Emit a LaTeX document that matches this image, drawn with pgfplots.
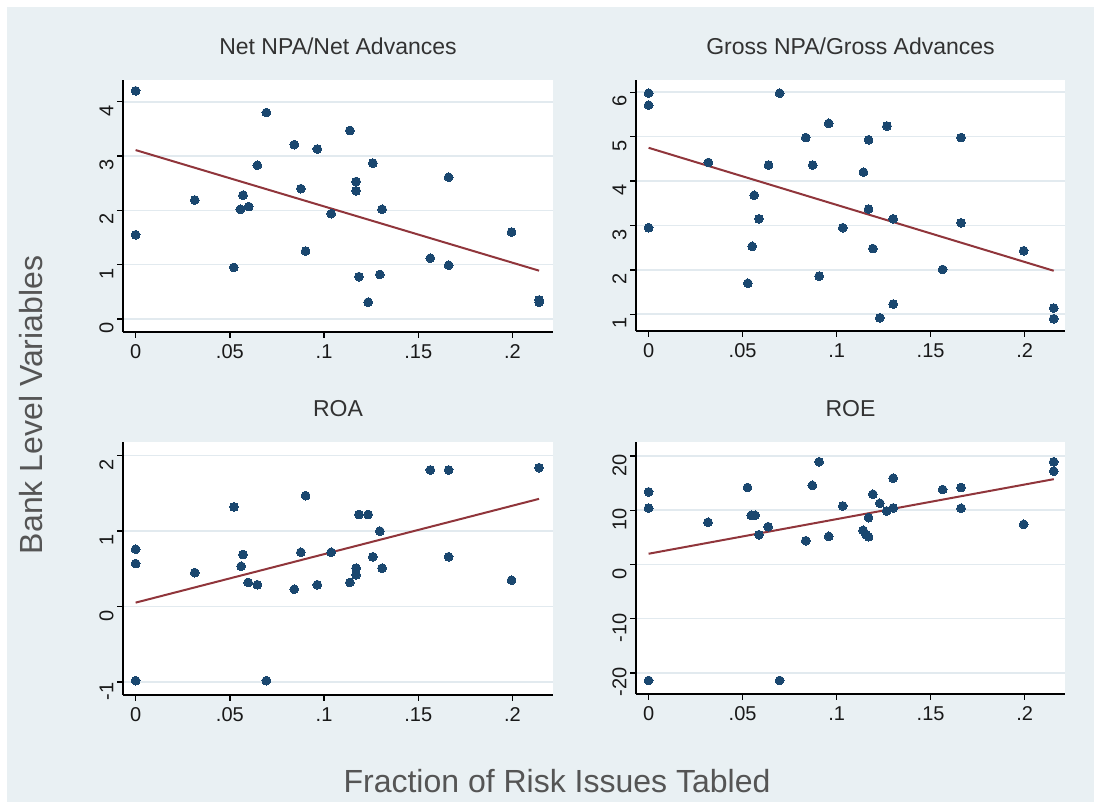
\documentclass[border=0pt]{standalone}
\usepackage{pgfplots}
\pgfplotsset{compat=1.18}
\usepackage{fontspec}
\setmainfont{Liberation Sans}
\definecolor{bgc}{RGB}{233,240,243}
\definecolor{gridc}{RGB}{226,234,239}
\definecolor{mk}{RGB}{26,71,111}
\definecolor{fitc}{RGB}{144,53,59}
\definecolor{titc}{RGB}{50,50,50}
\definecolor{labc}{RGB}{85,85,85}
\pgfplotsset{
 panel/.style={
  scale only axis, width=430pt, height=252pt,
  axis lines=left, axis line style={-, line width=1.4pt, black},
  axis background/.style={fill=white},
  xmin=-0.0067, xmax=0.2215,
  xtick={0,0.05,0.1,0.15,0.2}, xticklabels={0,.05,.1,.15,.2},
  tick align=outside, major tick length=6pt,
  tick style={black, line width=1.4pt},
  ymajorgrids, grid style={gridc, line width=1.6pt},
  /pgf/number format/assume math mode=true,
  ticklabel style={font=\fontsize{20}{24}\selectfont, text=black!90},
  yticklabel style={rotate=90, anchor=south, xshift=-9pt},
  xticklabel style={yshift=-3pt},
  title style={font=\fontsize{23}{27}\selectfont, text=titc, at={(0.5,1)}, anchor=base, yshift=19pt},
  clip=false,
 },
 pts/.style={only marks, mark=*, mark size=4.4pt, mark options={fill=mk, draw=mk, line width=0pt}},
 fitl/.style={no marks, fitc, line width=2pt},
}
\begin{document}
\begin{tikzpicture}
\useasboundingbox (0pt,0pt) rectangle (1094pt,802pt);
\fill[white] (0pt,0pt) rectangle (1094pt,802pt);
\fill[bgc] (7pt,0pt) rectangle (1094pt,795pt);

% Panel 1
\begin{axis}[panel, at={(123pt,470pt)}, anchor=south west,
  ymin=-0.239, ymax=4.40, ytick={0,1,2,3,4}, yticklabels={0,1,2,3,4},
  title={Net NPA/Net Advances}]
\addplot[fitl] coordinates {(0,3.11) (0.2141,0.89)};
\addplot[pts] table {
x y
0 4.20
0 1.55
0.0314 2.19
0.0521 0.95
0.0556 2.02
0.0570 2.28
0.0600 2.07
0.0646 2.83
0.0694 3.80
0.0842 3.21
0.0877 2.40
0.0902 1.25
0.0964 3.13
0.1038 1.94
0.1137 3.47
0.1170 2.53
0.1170 2.36
0.1185 0.78
0.1234 0.31
0.1259 2.87
0.1296 0.82
0.1308 2.02
0.1564 1.12
0.1661 0.99
0.1661 2.61
0.1995 1.60
0.2141 0.35
0.2141 0.31
};
\end{axis}

% Panel 2
\begin{axis}[panel, at={(636pt,471pt)}, anchor=south west, width=429pt, height=251pt,
  ymin=0.624, ymax=6.277, ytick={1,2,3,4,5,6}, yticklabels={1,2,3,4,5,6},
  title={Gross NPA/Gross Advances}]
\addplot[fitl] coordinates {(0,4.75) (0.2155,1.98)};
\addplot[pts] table {
x y
0 5.98
0 5.71
0 2.95
0.0318 4.42
0.0528 1.70
0.0551 2.53
0.0562 3.68
0.0587 3.15
0.0638 4.36
0.0697 5.98
0.0836 4.98
0.0873 4.36
0.0907 1.86
0.0958 5.30
0.1033 2.95
0.1143 4.20
0.1170 3.37
0.1170 4.93
0.1193 2.48
0.1230 0.92
0.1268 5.24
0.1301 1.23
0.1301 3.15
0.1564 2.01
0.1662 4.98
0.1662 3.06
0.1995 2.43
0.2155 1.14
0.2155 0.90
};
\end{axis}

% Panel 3
\begin{axis}[panel, at={(123pt,107pt)}, anchor=south west, height=253pt,
  ymin=-1.17, ymax=2.18, ytick={-1,0,1,2}, yticklabels={-1,0,1,2},
  title={ROA}]
\addplot[fitl] coordinates {(0,0.053) (0.2141,1.427)};
\addplot[pts] table {
x y
0 0.76
0 0.57
0 -0.98
0.0314 0.45
0.0522 1.32
0.0560 0.535
0.0570 0.69
0.0597 0.32
0.0646 0.29
0.0694 -0.98
0.0842 0.23
0.0877 0.72
0.0902 1.47
0.0964 0.29
0.1038 0.72
0.1137 0.32
0.1170 0.51
0.1170 0.42
0.1185 1.22
0.1234 1.22
0.1259 0.66
0.1296 1.00
0.1308 0.51
0.1564 1.81
0.1661 1.81
0.1661 0.66
0.1995 0.35
0.2141 1.84
};
\end{axis}

% Panel 4
\begin{axis}[panel, at={(636pt,108pt)}, anchor=south west, width=429pt,
  ymin=-23.9, ymax=22.6, ytick={-20,-10,0,10,20}, yticklabels={-20,-10,0,10,20},
  title={ROE}]
\addplot[fitl] coordinates {(0,1.98) (0.2155,15.74)};
\addplot[pts] table {
x y
0 13.4
0 10.4
0 -21.4
0.0316 7.78
0.0526 14.2
0.0546 9.07
0.0567 9.07
0.0587 5.49
0.0636 6.98
0.0697 -21.4
0.0836 4.38
0.0871 14.6
0.0907 18.95
0.0958 5.19
0.1033 10.8
0.1141 6.30
0.1156 5.49
0.1170 5.12
0.1170 8.64
0.1193 12.96
0.1230 11.3
0.1266 9.88
0.1301 10.43
0.1301 15.93
0.1564 13.83
0.1662 14.2
0.1662 10.37
0.1995 7.41
0.2155 18.95
0.2155 17.22
};
\end{axis}

\node[rotate=90, anchor=base, font=\fontsize{32}{38}\selectfont, text=labc] at (42pt,397pt) {Bank Level Variables};
\node[anchor=base, font=\fontsize{32}{38}\selectfont, text=labc] at (557pt,9pt) {Fraction of Risk Issues Tabled};
\end{tikzpicture}
\end{document}
